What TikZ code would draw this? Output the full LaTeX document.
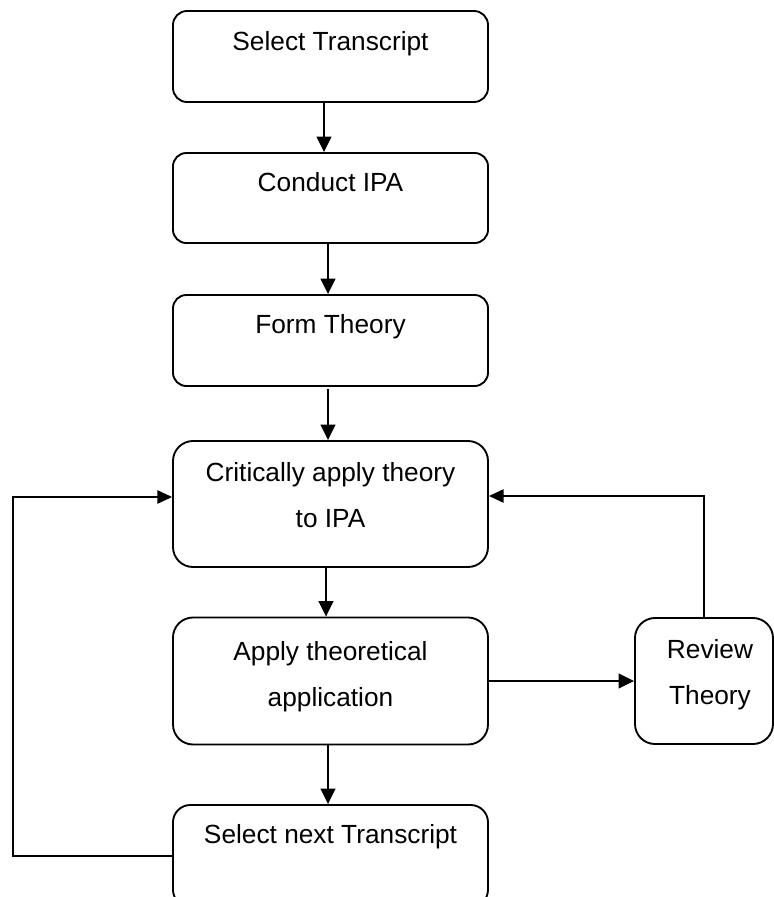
\documentclass[tikz,border=0pt]{standalone}
\usepackage{fontspec}
\setmainfont{Liberation Sans}
\usetikzlibrary{arrows.meta,calc}
\begin{document}
\begin{tikzpicture}[x=0.75pt,y=-0.75pt,
  stepbox/.style={draw, line width=1.4pt, inner sep=0pt, minimum width=236.25pt},
  steptext/.style={font=\fontsize{19.7}{34.5}\selectfont, align=center, inner sep=0pt, anchor=north},
  flow/.style={line width=1.4pt, -{Triangle[length=11.5pt,width=11pt]}},
  loop/.style={line width=1.1pt, -{Triangle[length=11pt,width=10pt]}}]
\useasboundingbox (0,0) rectangle (774,897);

% process boxes
\node[stepbox, minimum height=68.25pt, rounded corners=10.5pt] (b1) at (330.5,56.5) {};
\node[stepbox, minimum height=67.5pt,  rounded corners=10pt]   (b2) at (330.5,198) {};
\node[stepbox, minimum height=68.25pt, rounded corners=10pt]   (b3) at (330.5,340.5) {};
\node[stepbox, minimum height=94.5pt,  rounded corners=15pt]   (b4) at (330.5,504) {};
\node[stepbox, minimum height=95.25pt, rounded corners=15pt]   (b5) at (330.5,681) {};
\node[stepbox, minimum height=76.5pt,  rounded corners=13pt]   (b6) at (330.5,856) {};
\node[stepbox, minimum width=103.5pt, minimum height=94.5pt, rounded corners=15pt] (rv) at (704,681) {};

% box texts
\node[steptext] (t1) at (330.5,17.8)  {\strut Select Transcript};
\node[steptext] (t2) at (330.5,158.8) {\strut Conduct IPA};
\node[steptext] (t3) at (330.5,301.1) {\strut Form Theory};
\node[steptext] (t4) at (330.5,449.5) {\strut Critically apply theory\\to IPA\strut};
\node[steptext] (t5) at (330.5,627.8) {\strut Apply theoretical\\application\strut};
\node[steptext] (t6) at (330.5,811.1) {\strut Select next Transcript};
\node[steptext] (tr) at (710,626.1)   {\strut Review\\Theory\strut};

% main flow
\draw[flow] ($(b1.south)+(-6.5,0)$) -- ($(b2.north)+(-6.5,0)$);
\draw[flow] ($(b2.south)+(-2.5,0)$) -- ($(b3.north)+(-2.5,0)$);
\draw[flow] ($(b3.south)+(-2.5,2)$) -- ($(b4.north)+(-2.5,0)$);
\draw[flow] ($(b4.south)+(-4.5,0)$) -- ($(b5.north)+(-4.5,0)$);
\draw[flow] ($(b5.south)+(-2.5,0)$) -- ($(b6.north)+(-2.5,0)$);
\draw[flow] (b5.east) -- (rv.west);

% feedback loops
\draw[loop] (rv.north) |- ($(b4.east)+(0,-8)$);
\draw[loop] (b6.west) -- ++(-159,0) |- ($(b4.west)+(0,-7)$);
\end{tikzpicture}
\end{document}
